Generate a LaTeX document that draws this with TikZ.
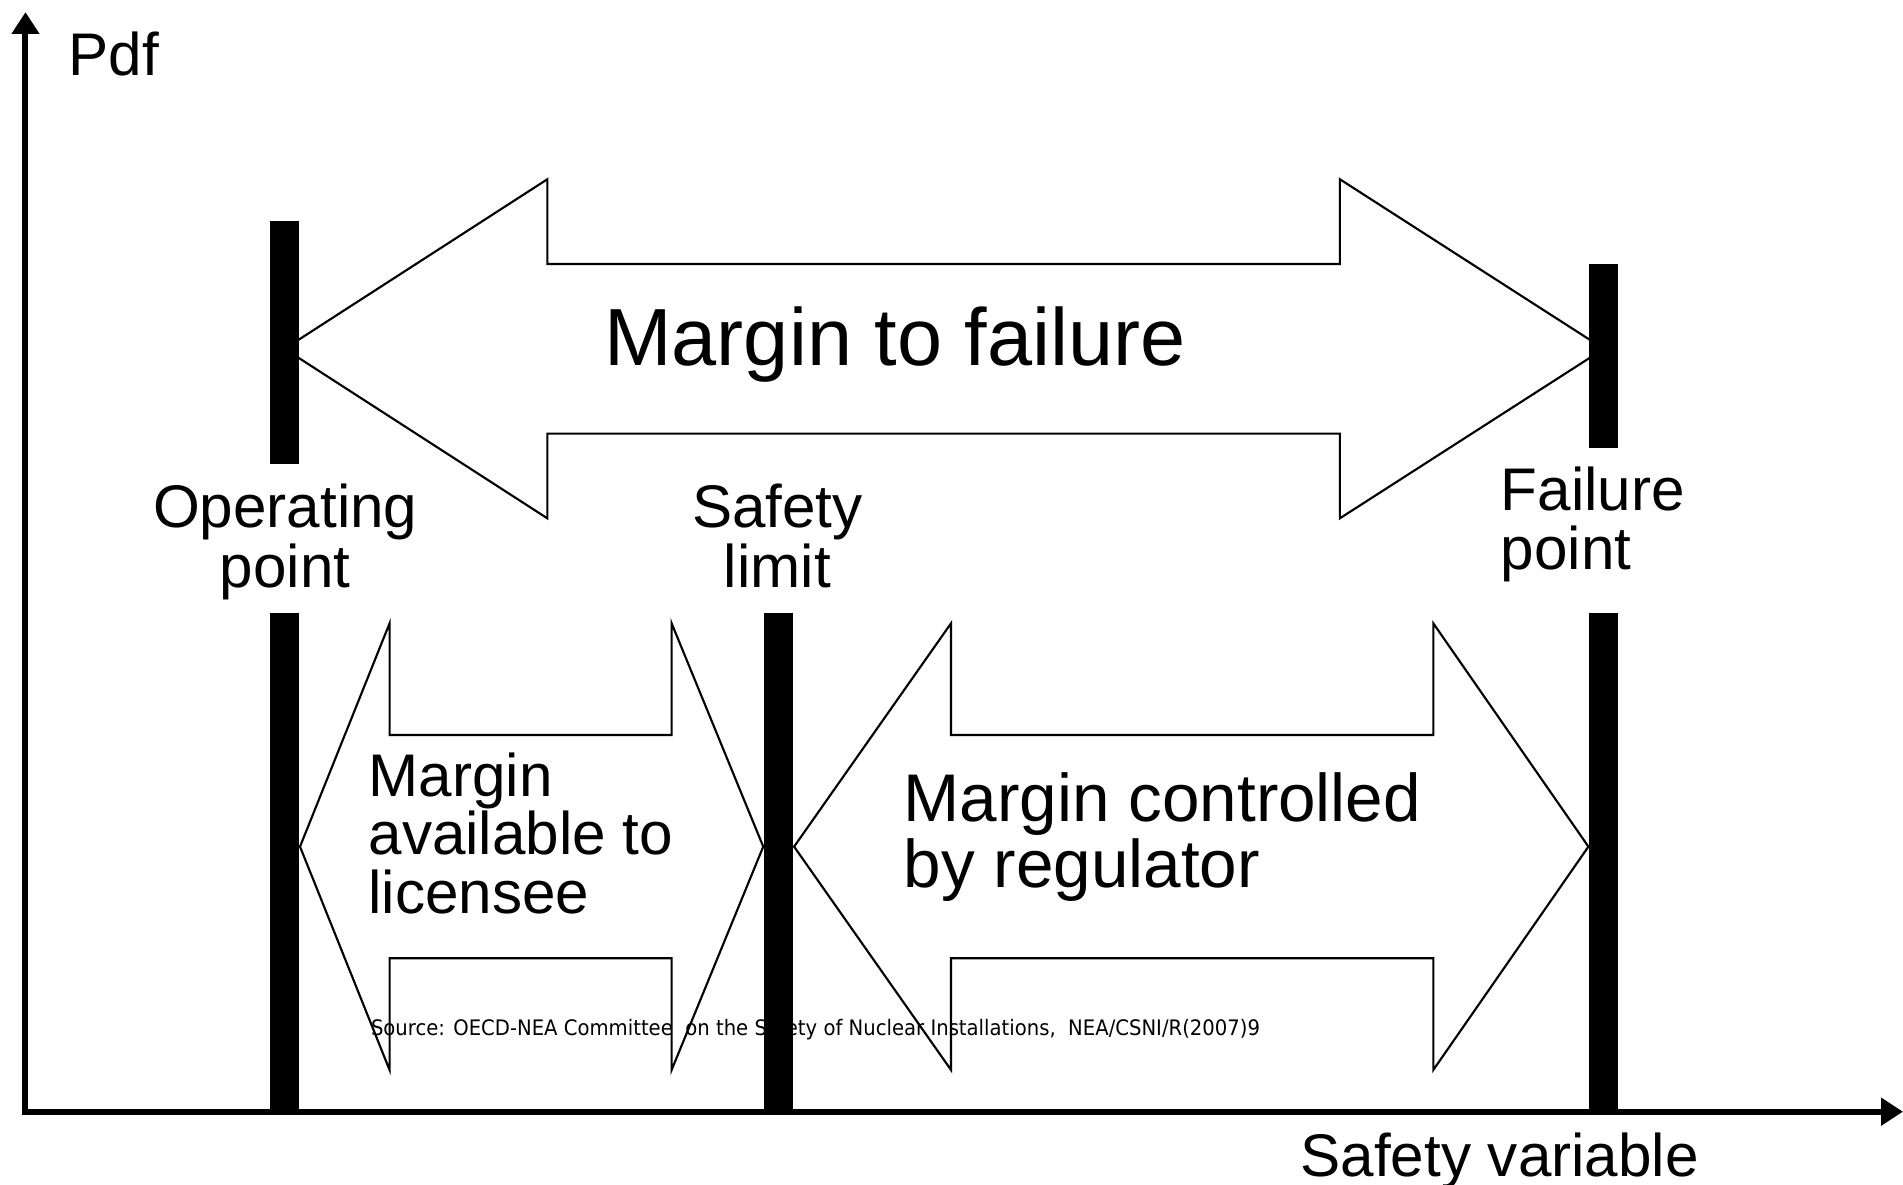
\documentclass[tikz,border=0pt]{standalone}
\usepackage{fontspec}
\setmainfont{Liberation Sans}
\newfontfamily\fuentenota[FakeStretch=0.92]{DejaVu Sans}
\usetikzlibrary{arrows.meta}

\begin{document}
\begin{tikzpicture}[
        x=0.01cm, y=-0.01cm,
        % Estilos de los elementos
        axis line/.style={
            line width=1.4pt,
            {Triangle[length=0.18cm,width=0.22cm]}-{Triangle[length=0.18cm,width=0.22cm]}
        },
        bar/.style={
            fill=black,
            inner sep=0pt,
            minimum width=0.24cm,
            anchor=north
        },
        block arrow/.style={
            draw=black,
            line width=0.5pt
        },
        point label/.style={
            font=\fontsize{14.1}{12}\selectfont,
            inner sep=0pt,
            align=center,
            anchor=base
        },
        margin label/.style={
            inner sep=0pt,
            align=left,
            anchor=base west
        }
    ]

    \useasboundingbox (0,0) rectangle (1568,976);

    % --- EJES ---
    \coordinate (origin) at (21,916);
    \coordinate (yEnd) at (21,10);
    \coordinate (xEnd) at (1568,916);
    \draw[axis line] (yEnd) -- (origin) -- (xEnd);

    \node[font=\fontsize{14.1}{12}\selectfont, inner sep=0pt, anchor=base west] (pdf) at (56,62) {Pdf};
    \node[font=\fontsize{14.1}{12}\selectfont, inner sep=0pt, anchor=base west] (safetyVar) at (1071,969) {Safety variable};

    % --- BARRAS ---
    \def\yLow{504}
    \node[bar, minimum height=2.006cm] (opTop) at (234.5,181) {};
    \node[bar, minimum height=4.12cm] (opLow) at (234.5,\yLow) {};
    \node[bar, minimum height=4.12cm] (safeLow) at (641.6,\yLow) {};
    \node[bar, minimum height=1.512cm] (failTop) at (1321.5,216.8) {};
    \node[bar, minimum height=4.12cm] (failLow) at (1321.5,\yLow) {};

    % --- FLECHA GRANDE ---
    \def\yBig{287.4}
    \draw[block arrow] (opTop.center |- 0,\yBig) -- (451,\yBig-139.7) -- (451,\yBig-69.9)
        -- (1104,\yBig-69.9) -- (1104,\yBig-139.7) -- (failTop.center |- 0,\yBig)
        -- (1104,\yBig+139.7) -- (1104,\yBig+69.9) -- (451,\yBig+69.9) -- (451,\yBig+139.7) -- cycle;

    % --- FLECHAS INFERIORES ---
    \def\yArr{697.6}
    \foreach \tipL/\baseL/\baseR/\tipR in {opLow.east/321/553.4/safeLow.west, safeLow.east/783.6/1181/failLow.west} {
        \draw[block arrow] (\tipL |- 0,\yArr) -- (\baseL,\yArr-184) -- (\baseL,\yArr-92)
            -- (\baseR,\yArr-92) -- (\baseR,\yArr-184) -- (\tipR |- 0,\yArr)
            -- (\baseR,\yArr+184) -- (\baseR,\yArr+92) -- (\baseL,\yArr+92) -- (\baseL,\yArr+184) -- cycle;
    }

    % --- TEXTOS ---
    \node[font=\fontsize{19}{22}\selectfont, inner sep=0pt, anchor=base] (failMargin) at (737.5,301) {Margin to failure};
    \node[point label] (opLabel) at (235,484) {Operating\\point};
    \node[point label] (safeLabel) at (640.5,484) {Safety\\limit};
    \node[margin label, font=\fontsize{14.1}{13.7}\selectfont] (failLabel) at (1236,469) {Failure\\point};
    \node[margin label, font=\fontsize{14.1}{13.8}\selectfont] (licMargin) at (303,753) {Margin\\available to\\licensee};
    \node[margin label, font=\fontsize{15.8}{15.4}\selectfont] (regMargin) at (744,731) {Margin controlled\\by regulator};

    \node[font=\fuentenota\fontsize{5}{6}\selectfont, inner sep=0pt, anchor=base west] (source) at (305,853)
        {Source: OECD-NEA Committee\ \ on the Safety of Nuclear Installations,\ \ NEA/CSNI/R(2007)9};

\end{tikzpicture}
\end{document}
